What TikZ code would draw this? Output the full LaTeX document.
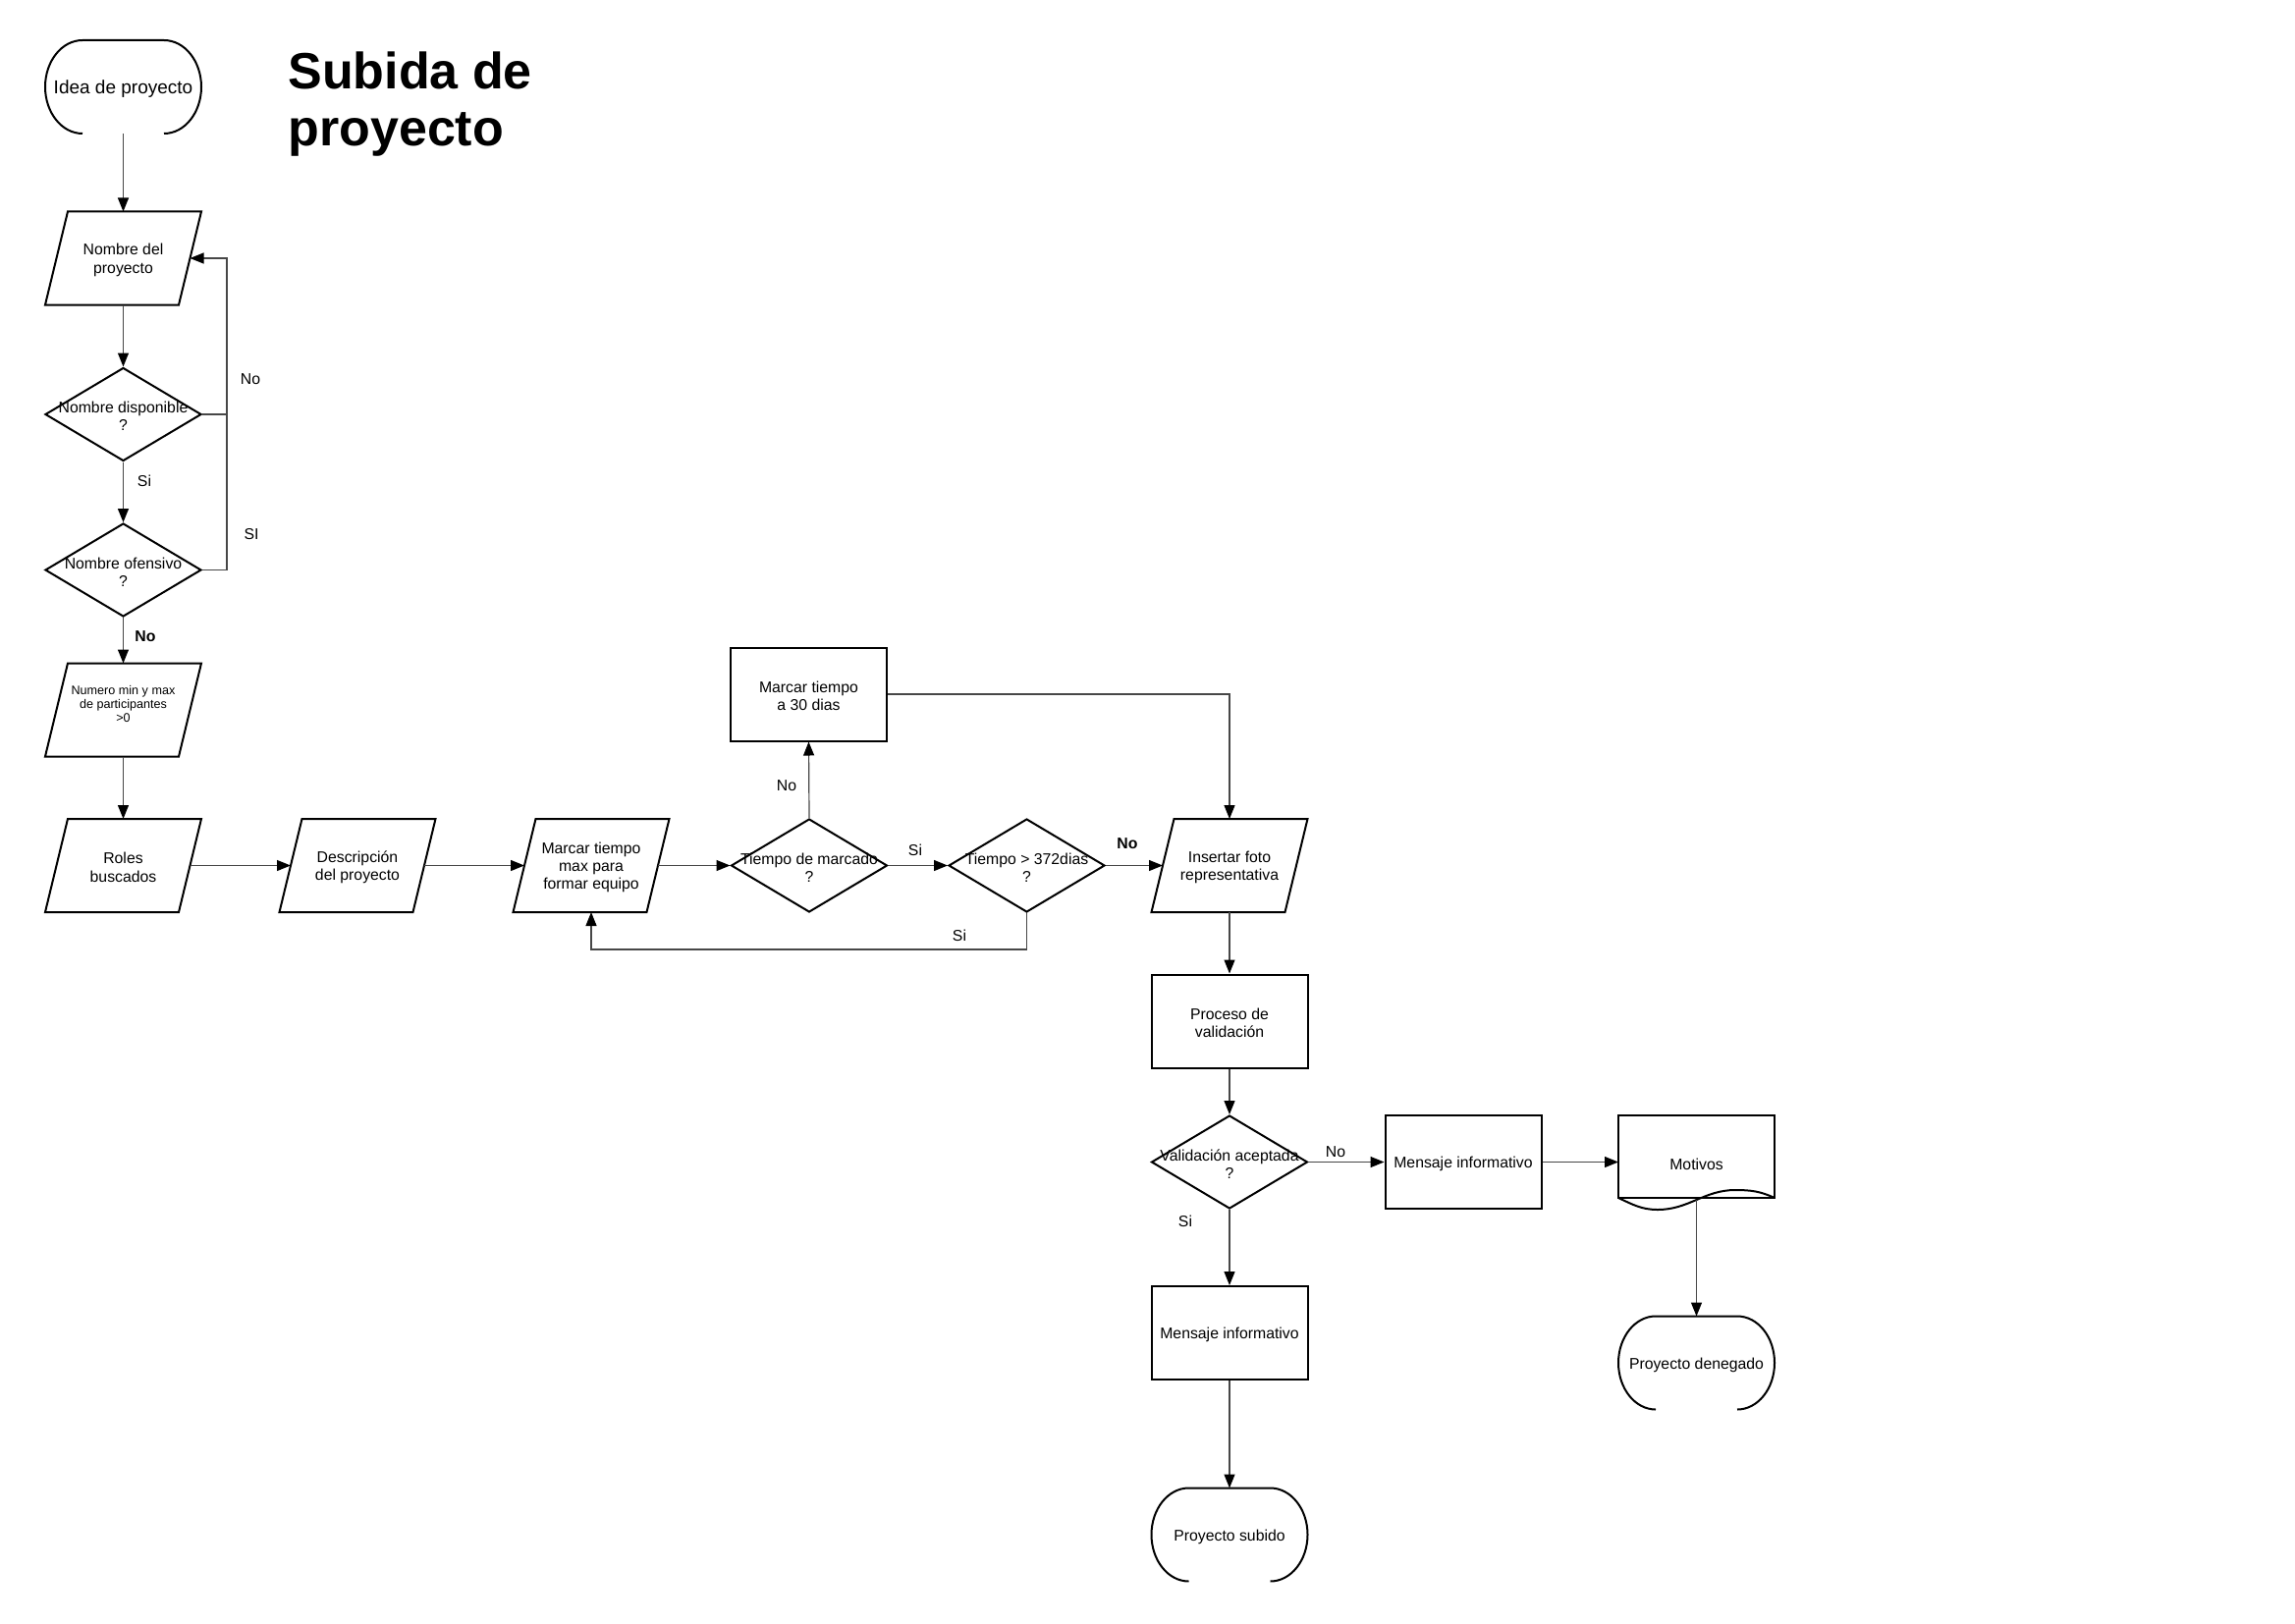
\documentclass[tikz,border=0pt]{standalone}
\usepackage{fontspec}
\setmainfont{Liberation Sans}
\usetikzlibrary{shapes.geometric,arrows.meta}

\tikzset{
  txt/.style={font=\fontsize{7.9}{9.2}\selectfont},
  outline/.style={draw=black, line width=1pt, line join=miter},
  body/.style={rectangle, minimum width=68pt, minimum height=47.5pt,
    inner sep=0pt, outer sep=0pt},
  termbody/.style={rectangle, minimum width=79.5pt, minimum height=47.5pt,
    inner sep=0pt, outer sep=0pt},
  procbox/.style={rectangle, outline, minimum width=79.5pt,
    minimum height=47.5pt, inner sep=0pt},
  decision/.style={diamond, outline, minimum width=79.5pt,
    minimum height=47.5pt, inner sep=0pt},
  dtext/.style={txt, align=center, inner sep=0pt},
  conn/.style={draw=black!72, line width=0.6pt},
  arr/.style={conn, -{Triangle[length=7pt,width=5.5pt,color=black]}},
  lbl/.style={txt, inner sep=0pt},
  blbl/.style={lbl, font=\fontsize{7.9}{9.2}\selectfont\bfseries},
  headline/.style={anchor=base west, inner sep=0pt,
    font=\fontsize{26}{29}\selectfont\bfseries},
}

% text set over a shape, a little below its centre
\newcommand\shapetext[2]{%
  \node[dtext] (#1-t) at ([yshift=-1pt]#1.center) {#2};}
% input/output step: parallelogram around an invisible body
\newcommand\ionode[4]{%
  \node[body] (#1) at (#2,#3) {};
  \draw[outline] ([xshift=5.75pt]#1.north west) -- ([xshift=5.75pt]#1.north east)
    -- ([xshift=-5.75pt]#1.south east) -- ([xshift=-5.75pt]#1.south west) -- cycle;
  \shapetext{#1}{#4}}
% start / end step: rounded sides, open at the bottom
\newcommand\termnode[4]{%
  \node[termbody] (#1) at (#2,#3) {};
  \draw[outline] ([xshift=19pt]#1.south west)
      arc[start angle=270, end angle=90, x radius=19pt, y radius=23.75pt]
    -- ([xshift=-19pt]#1.north east)
      arc[start angle=90, end angle=-90, x radius=19pt, y radius=23.75pt];
  \shapetext{#1}{#4}}
% process step
\newcommand\procnode[4]{%
  \node[procbox] (#1) at (#2,#3) {};
  \shapetext{#1}{#4}}
% decision: diamond with its question set over it
\newcommand\decnode[4]{%
  \node[decision] (#1) at (#2,#3) {};
  \shapetext{#1}{#4}}

\begin{document}
\begin{tikzpicture}[x=0.5pt, y=-0.5pt]
  \fill[white] (0,0) rectangle (2337,1653);
  \useasboundingbox (0,0) rectangle (2337,1653);

  % heading
  \node[headline] (head1) at (293,91) {Subida de};
  \node[headline] (head2) at (293,149) {proyecto};

  % first column
  \termnode{idea}{125.5}{88.5}{\fontsize{9.5}{11}\selectfont Idea de proyecto}
  \ionode{nombre}{125.5}{263}{Nombre del\\proyecto}
  \decnode{disp}{125.5}{422}{Nombre disponible\\?}
  \decnode{ofen}{125.5}{580.5}{Nombre ofensivo\\?}
  \ionode{numero}{125.5}{723}{}
  \node[txt, font=\fontsize{6.3}{7.1}\selectfont, align=center, inner sep=0pt]
    (numero-l) at ([yshift=3pt]numero.center) {Numero min y max\\de participantes\\>0};
  \ionode{roles}{125.5}{881.5}{Roles\\buscados}

  % main row
  \ionode{desc}{364}{881.5}{Descripción\\del proyecto}
  \ionode{maxt}{602}{881.5}{Marcar tiempo\\max para\\formar equipo}
  \decnode{tmarc}{824}{881.5}{Tiempo de marcado\\?}
  \procnode{m30}{823.5}{707}{Marcar tiempo\\a 30 dias}
  \decnode{t372}{1045.5}{881.5}{Tiempo > 372dias\\?}
  \ionode{foto}{1252}{881.5}{Insertar foto\\representativa}

  % validation column
  \procnode{proc}{1252}{1040}{Proceso de\\validación}
  \decnode{valid}{1252}{1183.5}{Validación aceptada\\?}
  \procnode{msg1}{1490}{1183.5}{Mensaje informativo}
  \procnode{msg2}{1252}{1357.5}{Mensaje informativo}
  \termnode{subido}{1252}{1563}{Proyecto subido}

  % document with reasons
  \node[termbody] (mot) at (1727.5,1183.5) {};
  \draw[outline] ([yshift=5.5pt]mot.south west) -- (mot.north west)
    -- (mot.north east) -- ([yshift=5.5pt]mot.south east) -- cycle;
  \draw[outline] ([yshift=5.5pt]mot.south west)
    to[out=-25, in=180] ([xshift=20pt, yshift=-0.5pt]mot.south west)
    to[out=0, in=180] ([xshift=-20pt, yshift=9.5pt]mot.south east)
    to[out=0, in=155] ([yshift=5.5pt]mot.south east);
  \shapetext{mot}{Motivos}
  \coordinate (motw) at ([yshift=4.5pt]mot.south);
  \termnode{den}{1727.5}{1388}{Proyecto denegado}

  % connectors
  \draw[arr] (idea.south) -- (nombre.north);
  \draw[arr] (nombre.south) -- (disp.north);
  \draw[arr] (disp.south) -- (ofen.north);
  \draw[arr] (ofen.south) -- (numero.north);
  \coordinate (loopx) at (231,422);
  \draw[arr] (disp.east) -- (loopx) |- (nombre.east);
  \draw[conn] (ofen.east) -| (loopx);
  \draw[arr] (numero.south) -- (roles.north);
  \draw[arr] (roles.east) -- (desc.west);
  \draw[arr] (desc.east) -- (maxt.west);
  \draw[arr] (maxt.east) -- (tmarc.west);
  \draw[arr] (tmarc.north) -- (m30.south);
  \draw[arr] (tmarc.east) -- (t372.west);
  \draw[arr] (t372.east) -- (foto.west);
  \coordinate (loopb) at (1045.5,967);
  \draw[arr] (t372.south) -- (loopb) -| (maxt.south);
  \draw[arr] (m30.east) -| (foto.north);
  \draw[arr] (foto.south) -- (proc.north);
  \draw[arr] (proc.south) -- (valid.north);
  \draw[arr] (valid.east) -- (msg1.west);
  \draw[arr] (valid.south) -- (msg2.north);
  \draw[arr] (msg2.south) -- (subido.north);
  \draw[arr] (msg1.east) -- (mot.west);
  \draw[arr] (motw) -- (den.north);

  % connector labels
  \node[lbl] (l1) at (255,386) {No};
  \node[lbl] (l2) at (256,544) {SI};
  \node[lbl] (l3) at (147,490) {Si};
  \node[blbl] (l4) at (148,648) {No};
  \node[lbl] (l5) at (801,800) {No};
  \node[lbl] (l6) at (932,866) {Si};
  \node[blbl] (l7) at (1148,859) {No};
  \node[lbl] (l8) at (977,953) {Si};
  \node[lbl] (l9) at (1360,1173) {No};
  \node[lbl] (l10) at (1207,1244) {Si};
\end{tikzpicture}
\end{document}
